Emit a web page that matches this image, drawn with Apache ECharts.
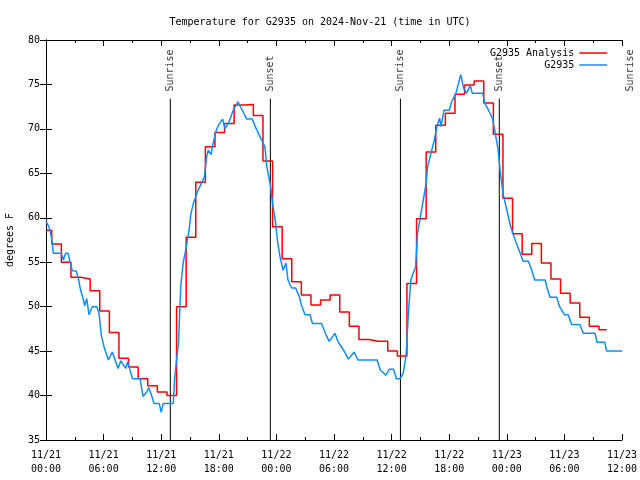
<!DOCTYPE html>
<html><head><meta charset="utf-8">
<script src="https://cdn.jsdelivr.net/npm/echarts@6/dist/echarts.min.js"></script>
<style>html,body{margin:0;padding:0;background:#fff}#c{width:640px;height:480px}</style>
</head><body><div id="c"></div>
<script>
// x axis is hours since 2024-11-21 00:00 UTC
const xTickLabels = ['11/21\n00:00','11/21\n06:00','11/21\n12:00','11/21\n18:00','11/22\n00:00','11/22\n06:00','11/22\n12:00','11/22\n18:00','11/23\n00:00','11/23\n06:00','11/23\n12:00'];

// G2935 Analysis: hourly values (hour 0..58)
const redValues = [58.6,57.05,55.0,53.3,53.1,51.8,49.5,47.1,44.2,43.2,41.9,41.1,40.4,40.0,50.0,57.8,64.0,68.0,69.6,70.6,72.7,72.75,71.5,66.4,59.0,55.4,52.8,51.3,50.2,50.75,51.3,49.4,47.8,46.3,46.1,46.1,45.0,44.45,52.6,59.9,67.4,70.4,71.75,73.9,74.95,75.4,72.9,69.4,62.2,58.2,55.9,57.1,54.9,53.1,51.5,50.4,48.8,47.8,47.4];

// G2935 observations: hours and temperatures
const blueHours = [0,0.3,0.49,0.66,0.76,1.6,1.8,2.05,2.3,2.5,2.74,3.16,3.4,3.6,3.9,4.03,4.24,4.48,4.83,5.3,5.52,5.76,6.04,6.5,6.9,7.2,7.5,7.8,8.0,8.3,8.5,8.65,9.0,9.8,10.1,10.5,10.7,11.0,11.25,11.8,12.0,12.2,13.26,13.4,13.8,13.95,14.05,14.3,14.6,14.9,15.1,15.35,15.76,16.2,16.5,16.74,16.9,17.2,17.33,17.7,17.95,18.4,18.65,19.0,19.5,20.0,20.45,20.9,21.5,21.8,22.3,22.8,23.0,23.4,23.6,23.9,24.1,24.375,24.7,25.0,25.2,25.6,26.0,26.4,26.6,26.98,27.5,27.75,28.7,29.1,29.5,30.1,30.4,31.0,31.5,32.1,32.5,34.5,34.8,35.4,35.75,36.2,36.5,36.9,37.2,37.5,37.75,38.0,38.5,38.7,39.0,39.3,39.6,39.75,40.1,40.45,40.75,41.0,41.15,41.46,42.0,42.25,42.7,43.2,43.5,43.8,44.2,44.4,45.5,45.7,46.1,46.5,46.8,47.1,47.3,47.6,48.0,48.4,49.0,49.4,49.7,50.25,50.6,50.9,52.0,52.2,52.5,53.2,53.5,54.0,54.4,54.75,55.6,55.97,57.2,57.4,58.2,58.4,60];
const blueTemps = [59.6,59.0,58.25,57.1,56.0,56.0,55.25,56.0,56.0,55.0,54.05,54.0,53.0,51.9,50.75,50.1,50.9,49.1,50.0,50.0,49.25,46.8,45.5,44.0,44.9,44.0,43.05,43.9,43.9,43.05,43.8,43.25,41.9,41.9,39.9,40.4,40.9,40.0,39.1,39.1,38.1,39.1,39.1,42.0,46.0,50.0,52.5,55.0,56.6,58.6,60.5,61.6,62.9,63.9,64.6,66.9,67.6,67.1,68.0,69.7,70.4,71.1,70.05,70.6,72.1,73.05,72.1,71.1,71.1,70.25,69.1,68.0,65.75,63.5,61.6,59.6,57.5,55.6,54.1,54.9,53.0,52.1,52.1,51.1,50.2,49.1,49.1,48.1,48.1,47.0,46.1,47.0,46.1,45.1,44.1,44.9,44.0,44.0,42.9,42.3,42.95,42.95,41.9,41.9,42.5,44.4,49.25,53.0,54.5,58.25,60.1,62.0,63.9,65.75,67.25,68.75,70.4,71.2,70.25,72.1,72.1,73.05,74.0,76.1,74.6,74.0,74.9,74.0,74.0,72.9,72.1,71.2,69.5,67.6,65.4,62.75,60.9,59.0,57.1,56.0,55.1,55.1,54.1,53.0,53.0,52.1,51.05,51.05,50.0,49.1,49.1,48.0,48.0,47.0,47.0,46.0,46.0,45.0,45.0];

// Sunrise / sunset events (hours)
const sunNames = ['Sunrise','Sunset','Sunrise','Sunset','Sunrise'];
const sunHours = [12.95, 23.37, 36.92, 47.22, 60.9];
const sunLineTop = 73.4, sunLabelAt = 74.2, yMin = 35, yMax = 80;

const FONT = 'DejaVu Sans Mono';
const RED = '#ff0000', BLUE = '#0f8cff';

// red: each hourly value holds from k-0.4 to k+0.6
const redData = redValues.map((v, k) => [Math.max(0, k - 0.4), v]);
redData.push([redValues.length - 1 + 0.4, redValues[redValues.length - 1]]);
const blueData = blueHours.map((h, i) => [h, blueTemps[i]]);

const sunLineSeries = sunHours.map(h => ({
  type: 'line', data: [[h, yMin], [h, sunLineTop]], symbol: 'none', clip: false, silent: true,
  lineStyle: { color: '#000', width: 1 }, z: 1, animation: false
}));

const axisCommon = {
  axisLine: { show: true, lineStyle: { color: '#000', width: 1 } },
  axisTick: { show: true, inside: true, length: 6, lineStyle: { color: '#000' } },
  splitLine: { show: false }
};

const chart = echarts.init(document.getElementById('c'));
chart.setOption({
  animation: false,
  backgroundColor: '#fff',
  title: { text: 'Temperature for G2935 on 2024-Nov-21 (time in UTC)', left: 'center', top: 12,
    textStyle: { fontFamily: FONT, fontSize: 10, fontWeight: 'normal', color: '#000' } },
  legend: { data: ['G2935 Analysis', 'G2935'], orient: 'vertical', right: 27, top: 43, align: 'right',
    itemWidth: 28, itemHeight: 12, itemGap: 2, itemStyle: { opacity: 0 },
    lineStyle: { width: 1.5 },
    textStyle: { fontFamily: FONT, fontSize: 10, color: '#000' } },
  grid: { left: 46, right: 18, top: 40, bottom: 40, containLabel: false, outerBoundsMode: 'none' },
  xAxis: [
    Object.assign({ type: 'value', min: 0, max: 60, interval: 6, position: 'bottom',
      minorTick: { show: true, splitNumber: 2, length: 3, lineStyle: { color: '#000' } },
      axisLabel: { formatter: v => xTickLabels[Math.round(v / 6)], fontFamily: FONT, fontSize: 10, color: '#000', lineHeight: 14, margin: 8 } }, axisCommon),
    Object.assign({ type: 'value', min: 0, max: 60, interval: 6, position: 'top',
      minorTick: { show: true, splitNumber: 2, length: 3, lineStyle: { color: '#000' } },
      axisLabel: { show: false } }, axisCommon)
  ],
  yAxis: [
    Object.assign({ type: 'value', min: yMin, max: yMax, interval: 5, position: 'left',
      name: 'degrees F', nameLocation: 'middle', nameRotate: 90, nameGap: 31,
      nameTextStyle: { fontFamily: FONT, fontSize: 10, color: '#000' },
      axisLabel: { fontFamily: FONT, fontSize: 10, color: '#000', margin: 6 } }, axisCommon),
    Object.assign({ type: 'value', min: yMin, max: yMax, interval: 5, position: 'right',
      axisLabel: { show: false } }, axisCommon)
  ],
  series: [
    { name: 'G2935 Analysis', type: 'line', data: redData, step: 'end', symbol: 'none', showSymbol: false,
      color: RED, lineStyle: { color: RED, width: 1.5 }, z: 3 },
    { name: 'G2935', type: 'line', data: blueData, symbol: 'none', showSymbol: false,
      color: BLUE, lineStyle: { color: BLUE, width: 1.5 }, z: 4 }
  ].concat(sunLineSeries).concat([{
    type: 'scatter', symbolSize: 0, clip: false, silent: true, z: 5,
    data: sunHours.map((h, i) => ({ value: [h, sunLabelAt], name: sunNames[i] })),
    label: { show: true, formatter: '{b}', position: 'inside', rotate: 90, align: 'left', verticalAlign: 'middle',
      fontFamily: FONT, fontSize: 10, color: '#000' }
  }])
});
</script></body></html>
